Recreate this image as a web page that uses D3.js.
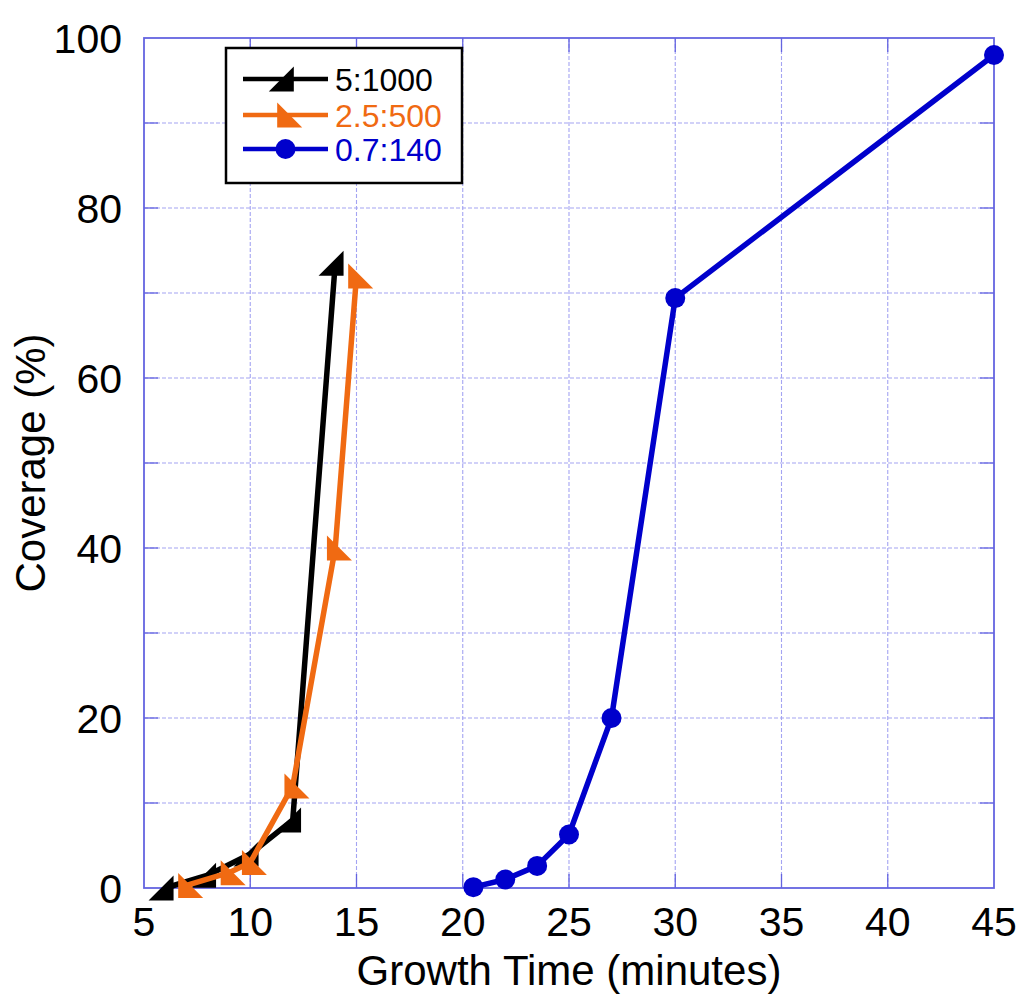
<!DOCTYPE html>
<html>
<head>
<meta charset="utf-8">
<title>Coverage vs growth time</title>
<script src="https://d3js.org/d3.v7.min.js"></script>
<style>
  body { margin: 0; background: #fff; }
  text { font-family: "Liberation Sans", Arial, sans-serif; }
  .grid line { stroke: #a4a4f2; stroke-width: 1.1; stroke-dasharray: 4,2; }
</style>
</head>
<body>
<svg width="1021" height="994"></svg>
<script>
// ---- data ----
var seriesNames = ["5:1000", "2.5:500", "0.7:140"];
var blackX = [6, 8, 10, 12, 14];
var blackY = [0, 1.5, 4, 8, 73.5];
var orangeX = [7, 9, 10, 12, 14, 15];
var orangeY = [0.3, 1.8, 3, 12, 40, 72];
var blueX = [20.5, 22, 23.5, 25, 27, 30, 45];
var blueY = [0.1, 1, 2.6, 6.3, 20, 69.4, 98];
var xTicks = [5, 10, 15, 20, 25, 30, 35, 40, 45];
var yTicks = [0, 20, 40, 60, 80, 100];
var yGrid = [10, 20, 30, 40, 50, 60, 70, 80, 90];

var svg = d3.select("svg");
var pLeft = 144, pRight = 994, pTop = 38, pBottom = 888;

var x = d3.scaleLinear().domain([5, 45]).range([pLeft, pRight]);
var y = d3.scaleLinear().domain([0, 100]).range([pBottom, pTop]);

var frameColor = "#6464e0";

// grid
var grid = svg.append("g").attr("class", "grid");
grid.selectAll(".vx").data(xTicks.slice(1, -1)).enter().append("line")
  .attr("x1", function(d) { return x(d); }).attr("x2", function(d) { return x(d); })
  .attr("y1", pTop).attr("y2", pBottom);
grid.selectAll(".hy").data(yGrid).enter().append("line")
  .attr("x1", pLeft).attr("x2", pRight)
  .attr("y1", function(d) { return y(d); }).attr("y2", function(d) { return y(d); });

// inside ticks
var tickLen = 14;
var ticks = svg.append("g").attr("stroke", frameColor).attr("stroke-width", 1.3);
yGrid.forEach(function(d) {
  ticks.append("line").attr("x1", pLeft).attr("x2", pLeft + tickLen).attr("y1", y(d)).attr("y2", y(d));
  ticks.append("line").attr("x1", pRight - tickLen).attr("x2", pRight).attr("y1", y(d)).attr("y2", y(d));
});
xTicks.slice(1, -1).forEach(function(d) {
  ticks.append("line").attr("x1", x(d)).attr("x2", x(d)).attr("y1", pBottom).attr("y2", pBottom - tickLen);
  ticks.append("line").attr("x1", x(d)).attr("x2", x(d)).attr("y1", pTop).attr("y2", pTop + tickLen);
});

// frame
svg.append("rect").attr("x", pLeft).attr("y", pTop)
  .attr("width", pRight - pLeft).attr("height", pBottom - pTop)
  .attr("fill", "none").attr("stroke", frameColor).attr("stroke-width", 1.8);

// tick labels
svg.append("g").selectAll("text").data(xTicks).enter().append("text")
  .attr("x", function(d) { return x(d); }).attr("y", 936)
  .attr("text-anchor", "middle").attr("font-size", 41).text(function(d) { return d; });
svg.append("g").selectAll("text").data(yTicks).enter().append("text")
  .attr("x", 122).attr("y", function(d) { return y(d) + 15; })
  .attr("text-anchor", "end").attr("font-size", 41).text(function(d) { return d; });

// axis titles
svg.append("text").attr("x", (pLeft + pRight) / 2).attr("y", 985)
  .attr("text-anchor", "middle").attr("font-size", 42).text("Growth Time (minutes)");
svg.append("text").attr("transform", "translate(45," + ((pTop + pBottom) / 2) + ") rotate(-90)")
  .attr("text-anchor", "middle").attr("font-size", 42).text("Coverage (%)");

// marker shapes (right triangles, legs 25px)
var s = 25;
function triBlack(cx, cy) { // right angle at bottom-right
  var l = cx - s * 2 / 3, r = cx + s / 3, t = cy - s / 2, b = cy + s / 2;
  return "M" + l + "," + b + "L" + r + "," + t + "L" + r + "," + b + "Z";
}
function triOrange(cx, cy) { // right angle at bottom-left
  var l = cx - s / 3, r = cx + s * 2 / 3, t = cy - s / 2, b = cy + s / 2;
  return "M" + l + "," + t + "L" + l + "," + b + "L" + r + "," + b + "Z";
}

var line = d3.line().x(function(d) { return x(d[0]); }).y(function(d) { return y(d[1]); });

function drawSeries(xs, ys, color, marker) {
  var pts = xs.map(function(v, i) { return [v, ys[i]]; });
  var g = svg.append("g");
  g.append("path").datum(pts).attr("d", line)
    .attr("fill", "none").attr("stroke", color).attr("stroke-width", 5.5).attr("stroke-linejoin", "round");
  if (marker == "circle") {
    g.selectAll("circle").data(pts).enter().append("circle")
      .attr("cx", function(d) { return x(d[0]); }).attr("cy", function(d) { return y(d[1]); })
      .attr("r", 10).attr("fill", color);
  } else {
    g.selectAll(".m").data(pts).enter().append("path")
      .attr("d", function(d) { return marker(x(d[0]), y(d[1])); }).attr("fill", color);
  }
}

var colors = ["#000000", "#f06a12", "#0000cc"];
drawSeries(blackX, blackY, colors[0], triBlack);
drawSeries(orangeX, orangeY, colors[1], triOrange);
drawSeries(blueX, blueY, colors[2], "circle");

// legend
var lg = svg.append("g");
lg.append("rect").attr("x", 226).attr("y", 48).attr("width", 236).attr("height", 135)
  .attr("fill", "#fff").attr("stroke", "#000").attr("stroke-width", 2.5);
var rows = [79, 115, 149];
seriesNames.forEach(function(name, i) {
  var ry = rows[i];
  lg.append("line").attr("x1", 243).attr("x2", 328).attr("y1", ry).attr("y2", ry)
    .attr("stroke", colors[i]).attr("stroke-width", 4.5);
  if (i == 0) lg.append("path").attr("d", triBlack(285.5, ry)).attr("fill", colors[i]);
  else if (i == 1) lg.append("path").attr("d", triOrange(285.5, ry)).attr("fill", colors[i]);
  else lg.append("circle").attr("cx", 285.5).attr("cy", ry).attr("r", 10).attr("fill", colors[i]);
  lg.append("text").attr("x", 335).attr("y", ry + 11.5).attr("font-size", 32)
    .attr("fill", colors[i]).text(name);
});
</script>
</body>
</html>
